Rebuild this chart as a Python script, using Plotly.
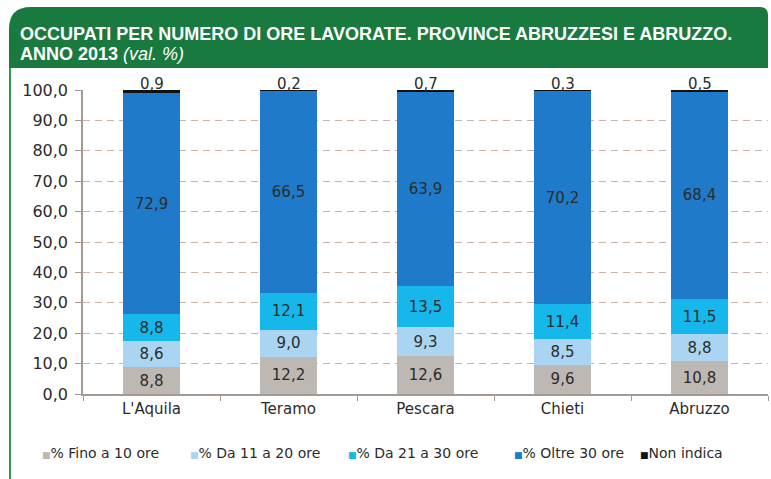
import plotly.graph_objects as go

W, H = 771, 479

provinces = ["L'Aquila", "Teramo", "Pescara", "Chieti", "Abruzzo"]
fino_10 = [8.8, 12.2, 12.6, 9.6, 10.8]
da_11_20 = [8.6, 9.0, 9.3, 8.5, 8.8]
da_21_30 = [8.8, 12.1, 13.5, 11.4, 11.5]
oltre_30 = [72.9, 66.5, 63.9, 70.2, 68.4]
non_indica = [0.9, 0.2, 0.7, 0.3, 0.5]

series = [
    ("% Fino a 10 ore", fino_10, "#bdb8b3"),
    ("% Da 11 a 20 ore", da_11_20, "#a9d5f2"),
    ("% Da 21 a 30 ore", da_21_30, "#16b7ea"),
    ("% Oltre 30 ore", oltre_30, "#1f7bc9"),
    ("Non indica", non_indica, "#111111"),
]

TXT = "#2b2b2b"
FONT = "DejaVu Sans, sans-serif"

def fmt(v):
    return f"{v:.1f}".replace(".", ",")

fig = go.Figure()
for name, vals, col in series[:4]:
    fig.add_trace(go.Bar(
        x=provinces, y=vals, name=name, marker=dict(color=col, line=dict(width=0)),
        text=[fmt(v) for v in vals], textposition="inside", insidetextanchor="middle",
        textangle=0, constraintext="none",
        textfont=dict(family=FONT, size=15, color=TXT),
        width=0.41, showlegend=False,
    ))
fig.add_trace(go.Bar(
    x=provinces, y=non_indica, name="Non indica",
    marker=dict(color=series[4][2], line=dict(width=0)),
    width=0.41, showlegend=False,
))

# values of the "Non indica" slice written on top of each stack
totals = [round(a + b + c + d + e, 1)
          for a, b, c, d, e in zip(fino_10, da_11_20, da_21_30, oltre_30, non_indica)]
for p, t, v in zip(provinces, totals, non_indica):
    fig.add_annotation(x=p, y=t, text=fmt(v), showarrow=False, yanchor="bottom", yshift=-5,
                       font=dict(family=FONT, size=15, color=TXT))

# green header band with rounded top corners
x0, x1, y0, y1, r1, r2 = 9, 768, 7, 68, 22, 8
path = (f"M {x0/W} {1-y1/H} L {x0/W} {1-(y0+r1)/H} "
        f"Q {x0/W} {1-y0/H} {(x0+r1)/W} {1-y0/H} "
        f"L {(x1-r2)/W} {1-y0/H} Q {x1/W} {1-y0/H} {x1/W} {1-(y0+r2)/H} "
        f"L {x1/W} {1-y1/H} Z")
fig.add_shape(type="path", path=path, xref="paper", yref="paper",
              fillcolor="#197a3f", line=dict(width=0), layer="below")
# green frame line on the left
fig.add_shape(type="line", xref="paper", yref="paper", x0=10/W, x1=10/W, y0=0, y1=1-y1/H,
              line=dict(color="#2e9a4c", width=2))

TFONT = dict(family="Liberation Sans, Arial, sans-serif", size=18, color="white")
fig.add_annotation(xref="paper", yref="paper", x=18/W, y=1-34/H, xanchor="left", yanchor="middle",
                   showarrow=False, align="left",
                   text="<b>OCCUPATI PER NUMERO DI ORE LAVORATE. PROVINCE ABRUZZESI E ABRUZZO.</b>",
                   font=TFONT)
fig.add_annotation(xref="paper", yref="paper", x=18/W, y=1-54/H, xanchor="left", yanchor="middle",
                   showarrow=False, align="left",
                   text="<b>ANNO 2013</b> <i>(val. %)</i>", font=TFONT)

# legend row: small coloured square followed by the series name
legend_x = [40, 188, 346, 512, 638]
for (name, _, col), lx in zip(series, legend_x):
    fig.add_annotation(xref="paper", yref="paper", x=lx/W, y=1-453/H, xanchor="left",
                       yanchor="middle", showarrow=False,
                       text=f'<span style="color:{col};font-size:9px">■</span>{name}',
                       font=dict(family=FONT, size=14, color=TXT))

fig.update_layout(
    width=W, height=H, margin=dict(l=0, r=0, t=0, b=0, autoexpand=False),
    paper_bgcolor="white", plot_bgcolor="white",
    barmode="stack", separators=",.",
    showlegend=False,
    font=dict(family=FONT, color=TXT),
    xaxis=dict(domain=[83/W, 768/W], showline=True, linecolor="#a39a93", linewidth=1.5,
               ticks="outside", tickson="boundaries", ticklen=5, tickcolor="#a39a93",
               tickfont=dict(size=15, color=TXT), automargin=False),
    yaxis=dict(domain=[1-394/H, 1-90/H], range=[0, 100], dtick=10, tickformat=".1f",
               showline=True, linecolor="#a39a93", linewidth=1.5,
               ticks="outside", ticklen=6, tickcolor="#a39a93", ticklabelstandoff=4,
               gridcolor="#cdb3a6", griddash="7px,5px", gridwidth=1, zeroline=False,
               tickfont=dict(size=16, color=TXT), automargin=False),
)

fig.write_html("out.html")
